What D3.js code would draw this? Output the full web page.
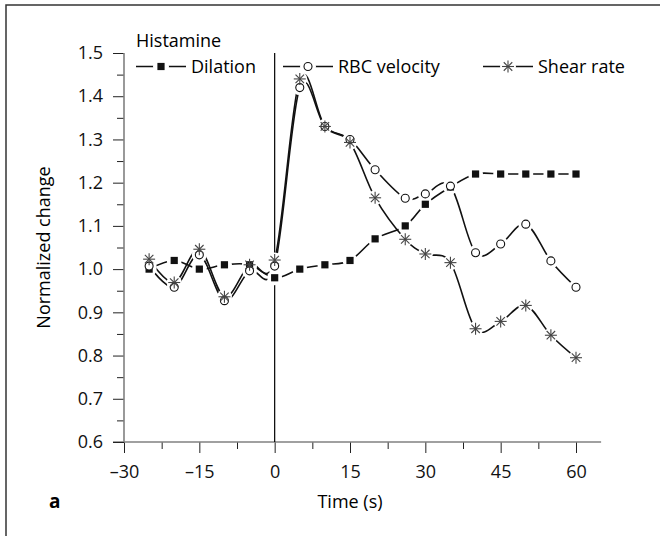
<!DOCTYPE html>
<html>
<head>
<meta charset="utf-8">
<script src="https://d3js.org/d3.v7.min.js"></script>
<style>
  body { margin: 0; background: #fff; }
  text { font-family: "Open Sans", sans-serif; }
</style>
</head>
<body>
<div id="chart"></div>
<script>
    const width = 660,
        height = 536;

    // time points (s) and normalized values
    const times    = [-25, -20, -15, -10, -5, 0, 5, 10, 15, 20, 26, 30, 35, 40, 45, 50, 55, 60];
    const dilation = [1.00, 1.02, 1.00, 1.01, 1.01, 0.98, 1.00, 1.01, 1.02, 1.07, 1.10, 1.15, 1.19, 1.22, 1.22, 1.22, 1.22, 1.22];
    const rbc      = [1.007, 0.958, 1.033, 0.927, 0.996, 1.007, 1.42, 1.33, 1.30, 1.23, 1.164, 1.174, 1.192, 1.038, 1.058, 1.104, 1.019, 0.958];
    const shear    = [1.023, 0.969, 1.046, 0.936, 1.01, 1.021, 1.44, 1.33, 1.293, 1.165, 1.069, 1.035, 1.015, 0.862, 0.879, 0.916, 0.847, 0.795];

    const seriesNames = ["Dilation", "RBC velocity", "Shear rate"];
    const xTicks = d3.range(-30, 60.1, 7.5);
    const yTicks = d3.range(0, 19).map(i => 0.6 + i * 0.05);

    const series = [
        { name: seriesNames[0], values: dilation, marker: "square" },
        { name: seriesNames[1], values: rbc, marker: "circle" },
        { name: seriesNames[2], values: shear, marker: "star" }
    ];

    const x = d3.scaleLinear().domain([-30, 60]).range([124, 576]);
    const y = d3.scaleLinear().domain([0.6, 1.5]).range([442, 53]);

    const svg = d3.select("#chart").append("svg")
        .attr("width", width)
        .attr("height", height);

    // frame (right and bottom edges fall outside the picture)
    svg.append("rect")
        .attr("x", 6).attr("y", 5)
        .attr("width", 700).attr("height", 600)
        .attr("fill", "none")
        .attr("stroke", "#333")
        .attr("stroke-width", 1.5);

    const fmt = d => (d < 0 ? "\u2013" + Math.abs(d) : d);

    // x axis
    const gx = svg.append("g")
        .attr("transform", `translate(0,${y(0.6)})`)
        .call(d3.axisBottom(x).tickValues(xTicks).tickSize(11).tickPadding(12)
            .tickFormat(d => d % 15 === 0 ? fmt(d) : ""));
    gx.select(".domain").remove();
    gx.selectAll(".tick line")
        .attr("y2", d => d % 15 === 0 ? 11 : 7)
        .attr("stroke", "#222");
    gx.append("line")
        .attr("x1", x(-30) - 11).attr("x2", x(65))
        .attr("stroke", "#808080").attr("stroke-width", 1.6);

    // y axis
    const gy = svg.append("g")
        .attr("transform", `translate(${x(-30)},0)`)
        .call(d3.axisLeft(y).tickValues(yTicks).tickSize(11).tickPadding(10)
            .tickFormat((d, i) => i % 2 === 0 ? d3.format(".1f")(d) : ""));
    gy.select(".domain").remove();
    gy.selectAll(".tick line")
        .attr("x2", (d, i) => i % 2 === 0 ? -11 : -7)
        .attr("stroke", "#222");
    gy.append("line")
        .attr("y1", y(0.6)).attr("y2", y(1.5))
        .attr("stroke", "#808080").attr("stroke-width", 1.6);

    svg.selectAll(".tick text")
        .attr("font-size", 18)
        .attr("fill", "#111")
        .style("font-family", "'Open Sans', sans-serif");

    // injection line at t = 0
    svg.append("line")
        .attr("x1", x(0)).attr("x2", x(0))
        .attr("y1", y(0.6)).attr("y2", y(1.5))
        .attr("stroke", "#000").attr("stroke-width", 1.2);

    // labels
    svg.append("text")
        .attr("x", x(15)).attr("y", 508)
        .attr("text-anchor", "middle")
        .attr("font-size", 18)
        .text("Time (s)");

    svg.append("text")
        .attr("transform", `translate(50,${y(1.05)}) rotate(-90)`)
        .attr("text-anchor", "middle")
        .attr("font-size", 18)
        .text("Normalized change");

    svg.append("text")
        .attr("x", 49).attr("y", 508)
        .attr("font-size", 19)
        .attr("font-weight", "bold")
        .text("a");

    svg.append("text")
        .attr("x", 136).attr("y", 47)
        .attr("font-size", 18)
        .text("Histamine");

    const line = d3.line()
        .x((d, i) => x(times[i]))
        .y(d => y(d))
        .curve(d3.curveCardinal.tension(0));

    function drawMarker(g, type, cx, cy) {
        if (type === "square") {
            g.append("rect")
                .attr("x", cx - 3.6).attr("y", cy - 3.6)
                .attr("width", 7.2).attr("height", 7.2)
                .attr("fill", "#111");
        } else if (type === "circle") {
            g.append("circle")
                .attr("cx", cx).attr("cy", cy).attr("r", 4)
                .attr("fill", "#fff")
                .attr("stroke", "#111").attr("stroke-width", 1.1);
        } else {
            const r = 6;
            d3.range(4).forEach(k => {
                const a = k * Math.PI / 4;
                g.append("line")
                    .attr("x1", cx - r * Math.cos(a)).attr("y1", cy - r * Math.sin(a))
                    .attr("x2", cx + r * Math.cos(a)).attr("y2", cy + r * Math.sin(a))
                    .attr("stroke", "#444").attr("stroke-width", 1.1);
            });
        }
    }

    const plot = svg.append("g");

    series.forEach(s => {
        plot.append("path")
            .attr("d", line(s.values))
            .attr("fill", "none")
            .attr("stroke", "#111")
            .attr("stroke-width", 1.6);
    });

    // white gaps around markers
    series.forEach(s => {
        plot.append("g").selectAll("circle")
            .data(s.values)
            .join("circle")
            .attr("cx", (d, i) => x(times[i]))
            .attr("cy", d => y(d))
            .attr("r", 7.5)
            .attr("fill", "#fff");
    });

    series.forEach(s => {
        const g = plot.append("g");
        s.values.forEach((v, i) => drawMarker(g, s.marker, x(times[i]), y(v)));
    });

    // legend
    const legendX = [136, 283, 483];
    const legendY = 66.5;
    series.forEach((s, i) => {
        const g = svg.append("g");
        const x0 = legendX[i];
        g.append("line")
            .attr("x1", x0).attr("x2", x0 + 50)
            .attr("y1", legendY).attr("y2", legendY)
            .attr("stroke", "#111").attr("stroke-width", 1.6);
        g.append("circle")
            .attr("cx", x0 + 25).attr("cy", legendY).attr("r", 8)
            .attr("fill", "#fff");
        drawMarker(g, s.marker, x0 + 25, legendY);
        g.append("text")
            .attr("x", x0 + 55).attr("y", 73)
            .attr("font-size", 18)
            .text(s.name);
    });
</script>
</body>
</html>
